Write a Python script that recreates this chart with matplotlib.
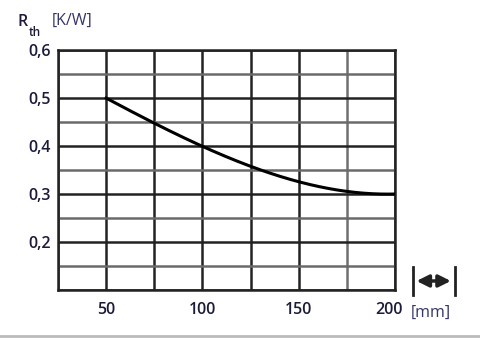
import matplotlib.pyplot as plt
import numpy as np
from matplotlib.lines import Line2D
from matplotlib.patches import FancyArrowPatch
from matplotlib.transforms import ScaledTranslation

# curve
length_mm = [50, 75, 100, 125, 150, 175, 200]
rth = [0.50, 0.447, 0.40, 0.357, 0.326, 0.305, 0.30]

x_ticks = [50, 100, 150, 200]
y_ticks = [0.2, 0.3, 0.4, 0.5, 0.6]
y_labels = ['0,2', '0,3', '0,4', '0,5', '0,6']

txt = '#1c1c3a'
plt.rcParams['font.family'] = ['Open Sans', 'DejaVu Sans']

fig = plt.figure(figsize=(4.8, 3.41), dpi=100, facecolor='white')
ax = fig.add_axes([0.121, 0.150, 0.702, 0.703])

# smooth curve through the read points
xs = np.linspace(50, 200, 200)
c = np.polyfit(length_mm, rth, 3)
ax.plot(xs, np.polyval(c, xs), color='black', lw=2.2, zorder=5)

ax.set_xlim(25, 200)
ax.set_ylim(0.1, 0.6)

# grid: dark lines and grey half lines
for v in np.arange(25, 201, 25):
    col = '#707070' if v == 175 else '#222222'
    ax.axvline(v, color=col, lw=1.8, zorder=2)
for v in np.arange(0.1, 0.601, 0.05):
    half = abs(round(v * 20) % 2) == 1
    ax.axhline(v, color='#6a6a6a' if half else '#222222', lw=1.8, zorder=2)

for s in ax.spines.values():
    s.set_color('#222222')
    s.set_linewidth(1.8)

ax.set_xticks(x_ticks)
ax.set_xticklabels([str(t) for t in x_ticks])
ax.set_yticks(y_ticks)
ax.set_yticklabels(y_labels)
ax.tick_params(axis='x', length=0, pad=9, labelsize=11.5, labelcolor=txt)
ax.tick_params(axis='y', length=0, pad=5, labelsize=11.5, labelcolor=txt)
for lab in ax.get_xticklabels() + ax.get_yticklabels():
    lab.set_fontweight('semibold')
last = ax.get_xticklabels()[-1]
last.set_transform(last.get_transform() + ScaledTranslation(-6 / 100, 0, fig.dpi_scale_trans))

fig.text(0.036, 0.935, 'R', fontsize=11.5, color=txt, fontweight='semibold', va='center')
fig.text(0.060, 0.905, 'th', fontsize=8.5, color=txt, fontweight='semibold', va='center')
fig.text(0.107, 0.94, '[K/W]', fontsize=11.5, color='#34346a', va='center')
fig.text(0.856, 0.082, '[mm]', fontsize=11.5, color='#34346a', va='center')

# length symbol
fig.add_artist(Line2D([0.860, 0.860], [0.135, 0.217], color='#222222', lw=2))
fig.add_artist(Line2D([0.947, 0.947], [0.135, 0.217], color='#222222', lw=2))
fig.add_artist(FancyArrowPatch(
    (0.862, 0.176), (0.945, 0.176), transform=fig.transFigure,
    arrowstyle='<|-|>', mutation_scale=18, color='#222222', lw=2.5))

fig.add_artist(Line2D([0, 1], [0.015, 0.015], color='#bbbbbb', lw=2))

fig.savefig('out.png', dpi=100)
